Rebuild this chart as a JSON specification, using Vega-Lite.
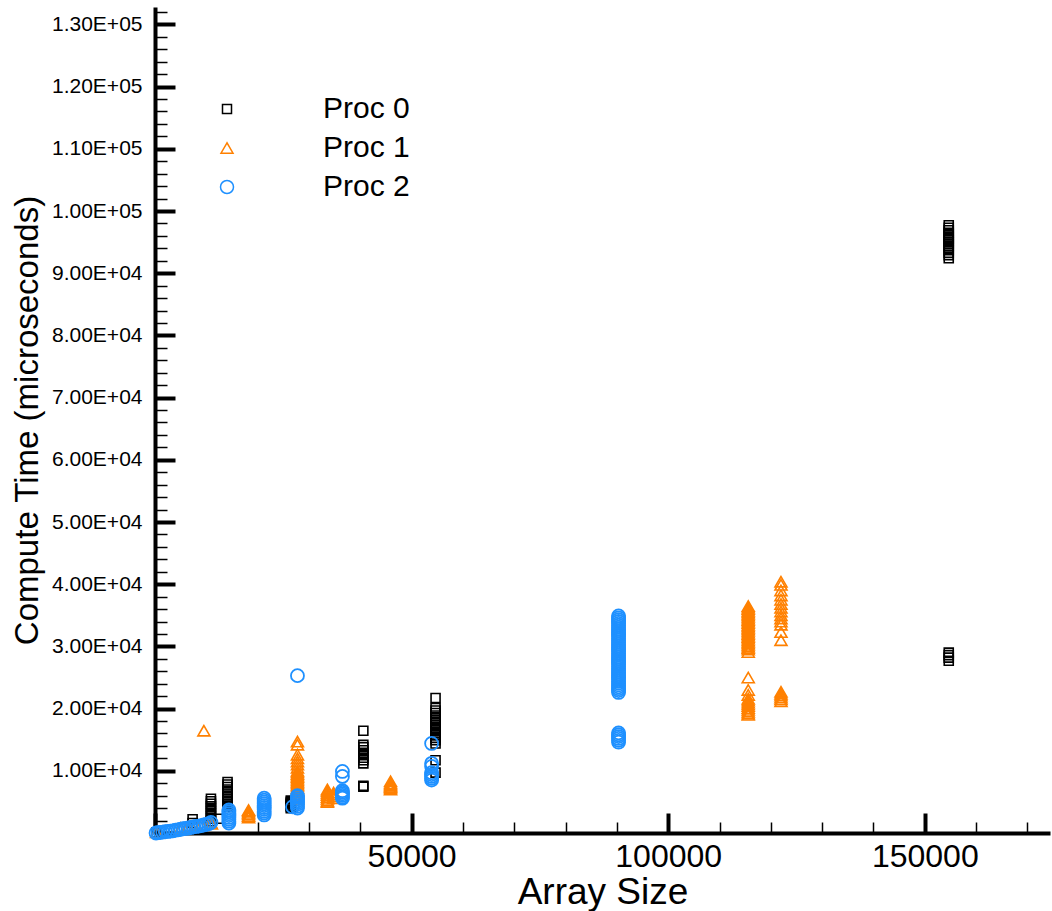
{
"$schema": "https://vega.github.io/schema/vega-lite/v6.json",
"width": 895, "height": 826,
"autosize": "none",
"padding": {"left": 155, "top": 7, "right": 2, "bottom": 78},
"background": "white",
"config": {"view": {"stroke": null}, "font": "Liberation Sans"},
"datasets": {
"p0": [
{"proc":"Proc 0","size":154670,"time":92400},{"proc":"Proc 0","size":154670,"time":92900},{"proc":"Proc 0","size":154670,"time":93300},{"proc":"Proc 0","size":154670,"time":93700},{"proc":"Proc 0","size":154670,"time":94100},{"proc":"Proc 0","size":154670,"time":94400},{"proc":"Proc 0","size":154670,"time":94700},{"proc":"Proc 0","size":154670,"time":95000},{"proc":"Proc 0","size":154670,"time":95300},{"proc":"Proc 0","size":154670,"time":95600},{"proc":"Proc 0","size":154670,"time":95900},{"proc":"Proc 0","size":154670,"time":96200},{"proc":"Proc 0","size":154670,"time":96500},{"proc":"Proc 0","size":154670,"time":96900},{"proc":"Proc 0","size":154670,"time":97300},{"proc":"Proc 0","size":154670,"time":97700},
{"proc":"Proc 0","size":154670,"time":27700},{"proc":"Proc 0","size":154670,"time":28200},{"proc":"Proc 0","size":154670,"time":28600},{"proc":"Proc 0","size":154670,"time":29000},
{"proc":"Proc 0","size":54670,"time":21700},{"proc":"Proc 0","size":54670,"time":20100},{"proc":"Proc 0","size":54670,"time":19700},{"proc":"Proc 0","size":54670,"time":19300},{"proc":"Proc 0","size":54670,"time":18900},{"proc":"Proc 0","size":54670,"time":18500},{"proc":"Proc 0","size":54670,"time":18100},{"proc":"Proc 0","size":54670,"time":17700},{"proc":"Proc 0","size":54670,"time":17300},{"proc":"Proc 0","size":54670,"time":16900},{"proc":"Proc 0","size":54670,"time":16500},{"proc":"Proc 0","size":54670,"time":16100},{"proc":"Proc 0","size":54670,"time":15700},{"proc":"Proc 0","size":54670,"time":15300},{"proc":"Proc 0","size":54670,"time":14900},{"proc":"Proc 0","size":54670,"time":14400},{"proc":"Proc 0","size":54670,"time":11700},{"proc":"Proc 0","size":54670,"time":9700},
{"proc":"Proc 0","size":40600,"time":16450},{"proc":"Proc 0","size":40600,"time":14200},{"proc":"Proc 0","size":40600,"time":13800},{"proc":"Proc 0","size":40600,"time":13300},{"proc":"Proc 0","size":40600,"time":12900},{"proc":"Proc 0","size":40600,"time":12500},{"proc":"Proc 0","size":40600,"time":12100},{"proc":"Proc 0","size":40600,"time":11700},{"proc":"Proc 0","size":40600,"time":11200},{"proc":"Proc 0","size":40600,"time":7450},{"proc":"Proc 0","size":40600,"time":7600},
{"proc":"Proc 0","size":26460,"time":4000},{"proc":"Proc 0","size":26460,"time":4200},{"proc":"Proc 0","size":26460,"time":4400},{"proc":"Proc 0","size":26460,"time":4600},{"proc":"Proc 0","size":26460,"time":4800},{"proc":"Proc 0","size":26460,"time":5000},{"proc":"Proc 0","size":26460,"time":5200},
{"proc":"Proc 0","size":14140,"time":8200},{"proc":"Proc 0","size":14140,"time":7800},{"proc":"Proc 0","size":14140,"time":7400},{"proc":"Proc 0","size":14140,"time":7000},{"proc":"Proc 0","size":14140,"time":6600},{"proc":"Proc 0","size":14140,"time":6200},{"proc":"Proc 0","size":14140,"time":5800},{"proc":"Proc 0","size":14140,"time":5400},{"proc":"Proc 0","size":14140,"time":5000},{"proc":"Proc 0","size":14140,"time":4600},{"proc":"Proc 0","size":14140,"time":4200},
{"proc":"Proc 0","size":10900,"time":5500},{"proc":"Proc 0","size":10900,"time":5100},{"proc":"Proc 0","size":10900,"time":4700},{"proc":"Proc 0","size":10900,"time":4300},{"proc":"Proc 0","size":10900,"time":3900},{"proc":"Proc 0","size":10900,"time":3500},{"proc":"Proc 0","size":10900,"time":3100},{"proc":"Proc 0","size":10900,"time":2700},{"proc":"Proc 0","size":10900,"time":2300},{"proc":"Proc 0","size":10900,"time":1900},
{"proc":"Proc 0","size":12450,"time":2300},{"proc":"Proc 0","size":7330,"time":2200},{"proc":"Proc 0","size":7330,"time":1600},{"proc":"Proc 0","size":300,"time":100}
],
"p1": [
{"proc":"Proc 1","size":9530,"time":16450},
{"proc":"Proc 1","size":18230,"time":2500},{"proc":"Proc 1","size":18230,"time":2750},{"proc":"Proc 1","size":18230,"time":3000},{"proc":"Proc 1","size":18230,"time":3250},{"proc":"Proc 1","size":18230,"time":3500},{"proc":"Proc 1","size":18230,"time":3700},
{"proc":"Proc 1","size":27760,"time":14700},{"proc":"Proc 1","size":27760,"time":14200},{"proc":"Proc 1","size":27760,"time":12600},{"proc":"Proc 1","size":27760,"time":12000},{"proc":"Proc 1","size":27760,"time":11500},{"proc":"Proc 1","size":27760,"time":11000},{"proc":"Proc 1","size":27760,"time":10500},{"proc":"Proc 1","size":27760,"time":10000},{"proc":"Proc 1","size":27760,"time":9750},{"proc":"Proc 1","size":27760,"time":9500},{"proc":"Proc 1","size":27760,"time":9250},{"proc":"Proc 1","size":27760,"time":9000},{"proc":"Proc 1","size":27760,"time":8750},{"proc":"Proc 1","size":27760,"time":8500},{"proc":"Proc 1","size":27760,"time":8250},{"proc":"Proc 1","size":27760,"time":8000},{"proc":"Proc 1","size":27760,"time":7750},{"proc":"Proc 1","size":27760,"time":7500},{"proc":"Proc 1","size":27760,"time":7250},{"proc":"Proc 1","size":27760,"time":7000},{"proc":"Proc 1","size":27760,"time":6750},{"proc":"Proc 1","size":27760,"time":6500},{"proc":"Proc 1","size":27760,"time":6250},{"proc":"Proc 1","size":27760,"time":6000},{"proc":"Proc 1","size":27760,"time":5750},{"proc":"Proc 1","size":27760,"time":5500},
{"proc":"Proc 1","size":33600,"time":7000},{"proc":"Proc 1","size":33600,"time":6700},{"proc":"Proc 1","size":33600,"time":6400},{"proc":"Proc 1","size":33600,"time":6100},{"proc":"Proc 1","size":33600,"time":5800},{"proc":"Proc 1","size":33600,"time":5500},{"proc":"Proc 1","size":33600,"time":5200},{"proc":"Proc 1","size":33600,"time":5000},
{"proc":"Proc 1","size":34800,"time":6500},{"proc":"Proc 1","size":34800,"time":6200},{"proc":"Proc 1","size":34800,"time":5900},{"proc":"Proc 1","size":34800,"time":5600},
{"proc":"Proc 1","size":45900,"time":8300},{"proc":"Proc 1","size":45900,"time":8000},{"proc":"Proc 1","size":45900,"time":7800},{"proc":"Proc 1","size":45900,"time":7600},{"proc":"Proc 1","size":45900,"time":7400},{"proc":"Proc 1","size":45900,"time":7200},{"proc":"Proc 1","size":45900,"time":7000},
{"proc":"Proc 1","size":115600,"time":36500},{"proc":"Proc 1","size":115600,"time":36250},{"proc":"Proc 1","size":115600,"time":36000},{"proc":"Proc 1","size":115600,"time":35750},{"proc":"Proc 1","size":115600,"time":35500},{"proc":"Proc 1","size":115600,"time":35250},{"proc":"Proc 1","size":115600,"time":35000},{"proc":"Proc 1","size":115600,"time":34750},{"proc":"Proc 1","size":115600,"time":34500},{"proc":"Proc 1","size":115600,"time":34250},{"proc":"Proc 1","size":115600,"time":34000},{"proc":"Proc 1","size":115600,"time":33750},{"proc":"Proc 1","size":115600,"time":33500},{"proc":"Proc 1","size":115600,"time":33250},{"proc":"Proc 1","size":115600,"time":33000},{"proc":"Proc 1","size":115600,"time":32750},{"proc":"Proc 1","size":115600,"time":32500},{"proc":"Proc 1","size":115600,"time":32250},{"proc":"Proc 1","size":115600,"time":32000},{"proc":"Proc 1","size":115600,"time":31750},{"proc":"Proc 1","size":115600,"time":31500},{"proc":"Proc 1","size":115600,"time":31250},{"proc":"Proc 1","size":115600,"time":31000},{"proc":"Proc 1","size":115600,"time":30750},{"proc":"Proc 1","size":115600,"time":30500},{"proc":"Proc 1","size":115600,"time":30250},{"proc":"Proc 1","size":115600,"time":30000},{"proc":"Proc 1","size":115600,"time":29750},{"proc":"Proc 1","size":115600,"time":29500},{"proc":"Proc 1","size":115600,"time":29100},
{"proc":"Proc 1","size":115600,"time":25000},{"proc":"Proc 1","size":115600,"time":23000},{"proc":"Proc 1","size":115600,"time":22200},{"proc":"Proc 1","size":115600,"time":21600},{"proc":"Proc 1","size":115600,"time":21300},{"proc":"Proc 1","size":115600,"time":21000},{"proc":"Proc 1","size":115600,"time":20700},{"proc":"Proc 1","size":115600,"time":20400},{"proc":"Proc 1","size":115600,"time":20100},{"proc":"Proc 1","size":115600,"time":19800},{"proc":"Proc 1","size":115600,"time":19500},{"proc":"Proc 1","size":115600,"time":19200},{"proc":"Proc 1","size":115600,"time":19000},
{"proc":"Proc 1","size":121980,"time":40400},{"proc":"Proc 1","size":121980,"time":39900},{"proc":"Proc 1","size":121980,"time":39000},{"proc":"Proc 1","size":121980,"time":38200},{"proc":"Proc 1","size":121980,"time":37500},{"proc":"Proc 1","size":121980,"time":36800},{"proc":"Proc 1","size":121980,"time":36200},{"proc":"Proc 1","size":121980,"time":35600},{"proc":"Proc 1","size":121980,"time":35000},{"proc":"Proc 1","size":121980,"time":34500},{"proc":"Proc 1","size":121980,"time":34000},{"proc":"Proc 1","size":121980,"time":33500},{"proc":"Proc 1","size":121980,"time":32300},{"proc":"Proc 1","size":121980,"time":31000},
{"proc":"Proc 1","size":121980,"time":22700},{"proc":"Proc 1","size":121980,"time":22400},{"proc":"Proc 1","size":121980,"time":22100},{"proc":"Proc 1","size":121980,"time":21800},{"proc":"Proc 1","size":121980,"time":21500},{"proc":"Proc 1","size":121980,"time":21200},
{"proc":"Proc 1","size":5000,"time":800},{"proc":"Proc 1","size":6500,"time":1000},{"proc":"Proc 1","size":8000,"time":1200},{"proc":"Proc 1","size":9000,"time":1300},{"proc":"Proc 1","size":10800,"time":1800},{"proc":"Proc 1","size":11000,"time":1500},{"proc":"Proc 1","size":300,"time":100}
],
"p2": [
{"proc":"Proc 2","size":200,"time":0},{"proc":"Proc 2","size":600,"time":50},{"proc":"Proc 2","size":1000,"time":100},{"proc":"Proc 2","size":1500,"time":150},{"proc":"Proc 2","size":2000,"time":200},{"proc":"Proc 2","size":2500,"time":250},{"proc":"Proc 2","size":3000,"time":300},{"proc":"Proc 2","size":3500,"time":350},{"proc":"Proc 2","size":4000,"time":450},{"proc":"Proc 2","size":4500,"time":500},{"proc":"Proc 2","size":5000,"time":600},{"proc":"Proc 2","size":5500,"time":700},{"proc":"Proc 2","size":6000,"time":750},{"proc":"Proc 2","size":6500,"time":800},{"proc":"Proc 2","size":7000,"time":900},{"proc":"Proc 2","size":7500,"time":1000},{"proc":"Proc 2","size":8000,"time":1050},{"proc":"Proc 2","size":8500,"time":1100},{"proc":"Proc 2","size":9000,"time":1200},{"proc":"Proc 2","size":9500,"time":1300},{"proc":"Proc 2","size":10000,"time":1400},{"proc":"Proc 2","size":10500,"time":1500},{"proc":"Proc 2","size":10900,"time":1700},
{"proc":"Proc 2","size":14400,"time":1600},{"proc":"Proc 2","size":14400,"time":1900},{"proc":"Proc 2","size":14400,"time":2200},{"proc":"Proc 2","size":14400,"time":2500},{"proc":"Proc 2","size":14400,"time":2800},{"proc":"Proc 2","size":14400,"time":3100},{"proc":"Proc 2","size":14400,"time":3400},{"proc":"Proc 2","size":14400,"time":3700},
{"proc":"Proc 2","size":21270,"time":2900},{"proc":"Proc 2","size":21270,"time":3200},{"proc":"Proc 2","size":21270,"time":3500},{"proc":"Proc 2","size":21270,"time":3800},{"proc":"Proc 2","size":21270,"time":4100},{"proc":"Proc 2","size":21270,"time":4400},{"proc":"Proc 2","size":21270,"time":4700},{"proc":"Proc 2","size":21270,"time":5000},{"proc":"Proc 2","size":21270,"time":5300},{"proc":"Proc 2","size":21270,"time":5600},
{"proc":"Proc 2","size":27760,"time":4000},{"proc":"Proc 2","size":27760,"time":4300},{"proc":"Proc 2","size":27760,"time":4600},{"proc":"Proc 2","size":27760,"time":4900},{"proc":"Proc 2","size":27760,"time":5200},{"proc":"Proc 2","size":27760,"time":5500},{"proc":"Proc 2","size":27760,"time":5800},{"proc":"Proc 2","size":27760,"time":6000},{"proc":"Proc 2","size":27760,"time":25300},{"proc":"Proc 2","size":26800,"time":4200},
{"proc":"Proc 2","size":36520,"time":9900},{"proc":"Proc 2","size":36520,"time":9100},{"proc":"Proc 2","size":36520,"time":6800},{"proc":"Proc 2","size":36520,"time":6550},{"proc":"Proc 2","size":36520,"time":6300},{"proc":"Proc 2","size":36520,"time":6050},{"proc":"Proc 2","size":36520,"time":5800},{"proc":"Proc 2","size":36520,"time":5600},
{"proc":"Proc 2","size":53900,"time":14400},{"proc":"Proc 2","size":53900,"time":11200},{"proc":"Proc 2","size":53900,"time":10700},{"proc":"Proc 2","size":53900,"time":9700},{"proc":"Proc 2","size":53900,"time":9400},{"proc":"Proc 2","size":53900,"time":9100},{"proc":"Proc 2","size":53900,"time":8800},{"proc":"Proc 2","size":53900,"time":8500},
{"proc":"Proc 2","size":90330,"time":34900},{"proc":"Proc 2","size":90330,"time":34600},{"proc":"Proc 2","size":90330,"time":34300},{"proc":"Proc 2","size":90330,"time":34000},{"proc":"Proc 2","size":90330,"time":33700},{"proc":"Proc 2","size":90330,"time":33400},{"proc":"Proc 2","size":90330,"time":33100},{"proc":"Proc 2","size":90330,"time":32800},{"proc":"Proc 2","size":90330,"time":32500},{"proc":"Proc 2","size":90330,"time":32200},{"proc":"Proc 2","size":90330,"time":31900},{"proc":"Proc 2","size":90330,"time":31600},{"proc":"Proc 2","size":90330,"time":31300},{"proc":"Proc 2","size":90330,"time":31000},{"proc":"Proc 2","size":90330,"time":30700},{"proc":"Proc 2","size":90330,"time":30400},{"proc":"Proc 2","size":90330,"time":30100},{"proc":"Proc 2","size":90330,"time":29800},{"proc":"Proc 2","size":90330,"time":29500},{"proc":"Proc 2","size":90330,"time":29200},{"proc":"Proc 2","size":90330,"time":28900},{"proc":"Proc 2","size":90330,"time":28600},{"proc":"Proc 2","size":90330,"time":28300},{"proc":"Proc 2","size":90330,"time":28000},{"proc":"Proc 2","size":90330,"time":27700},{"proc":"Proc 2","size":90330,"time":27400},{"proc":"Proc 2","size":90330,"time":27100},{"proc":"Proc 2","size":90330,"time":26800},{"proc":"Proc 2","size":90330,"time":26500},{"proc":"Proc 2","size":90330,"time":26200},{"proc":"Proc 2","size":90330,"time":25900},{"proc":"Proc 2","size":90330,"time":25600},{"proc":"Proc 2","size":90330,"time":25300},{"proc":"Proc 2","size":90330,"time":25000},{"proc":"Proc 2","size":90330,"time":24700},{"proc":"Proc 2","size":90330,"time":24400},{"proc":"Proc 2","size":90330,"time":24100},{"proc":"Proc 2","size":90330,"time":23800},{"proc":"Proc 2","size":90330,"time":23500},{"proc":"Proc 2","size":90330,"time":23200},{"proc":"Proc 2","size":90330,"time":22900},{"proc":"Proc 2","size":90330,"time":22600},
{"proc":"Proc 2","size":90330,"time":14600},{"proc":"Proc 2","size":90330,"time":14900},{"proc":"Proc 2","size":90330,"time":15200},{"proc":"Proc 2","size":90330,"time":15500},{"proc":"Proc 2","size":90330,"time":15800},{"proc":"Proc 2","size":90330,"time":16100}
]
},
"layer": [
  {"data": {"name": "p0"}, "mark": {"type": "point", "filled": false, "strokeWidth": 1.6, "opacity": 1, "clip": false}},
  {"data": {"name": "p1"}, "mark": {"type": "point", "filled": false, "strokeWidth": 1.6, "opacity": 1, "clip": false}},
  {"data": {"name": "p2"}, "mark": {"type": "point", "filled": false, "strokeWidth": 1.8, "opacity": 1, "clip": false}}
],
"encoding": {
  "x": {"field": "size", "type": "quantitative", "title": "Array Size",
    "scale": {"domain": [0, 174400], "nice": false, "zero": false},
    "axis": {"values": [0,10000,20000,30000,40000,50000,60000,70000,80000,90000,100000,110000,120000,130000,140000,150000,160000,170000],
      "labelExpr": "datum.value % 50000 === 0 && datum.value > 0 ? '' + datum.value : ''",
      "tickSize": {"condition": {"test": "datum.value % 50000 === 0", "value": -20}, "value": -11},
      "tickWidth": {"condition": {"test": "datum.value % 50000 === 0", "value": 4}, "value": 1.5},
      "tickColor": "#000", "domainColor": "#000", "domainWidth": 4, "grid": false,
      "labelFontSize": 32, "labelColor": "#000", "labelPadding": 28, "labelOverlap": false, "labelFlush": false,
      "titleFontSize": 37, "titleFontWeight": "normal", "titleColor": "#000", "titleBaseline": "alphabetic", "titleY": 70}},
  "y": {"field": "time", "type": "quantitative", "title": "Compute Time (microseconds)",
    "scale": {"domain": [0, 132800], "nice": false, "zero": false},
    "axis": {"values": [0,2000,4000,6000,8000,10000,12000,14000,16000,18000,20000,22000,24000,26000,28000,30000,32000,34000,36000,38000,40000,42000,44000,46000,48000,50000,52000,54000,56000,58000,60000,62000,64000,66000,68000,70000,72000,74000,76000,78000,80000,82000,84000,86000,88000,90000,92000,94000,96000,98000,100000,102000,104000,106000,108000,110000,112000,114000,116000,118000,120000,122000,124000,126000,128000,130000,132000],
      "labelExpr": "datum.value % 10000 === 0 && datum.value > 0 ? (datum.value >= 100000 ? format(datum.value / 100000, '.2f') + 'E+05' : format(datum.value / 10000, '.2f') + 'E+04') : ''",
      "tickSize": {"condition": {"test": "datum.value % 10000 === 0", "value": -20}, "value": -12},
      "tickWidth": {"condition": {"test": "datum.value % 10000 === 0", "value": 4}, "value": 1.5},
      "tickColor": "#000", "domainColor": "#000", "domainWidth": 4, "grid": false,
      "labelFontSize": 21, "labelColor": "#000", "labelPadding": 33, "labelOverlap": false, "labelFlush": false,
      "titleFontSize": 33, "titleFontWeight": "normal", "titleColor": "#000", "titlePadding": 7}},
  "color": {"field": "proc", "type": "nominal",
    "scale": {"domain": ["Proc 0", "Proc 1", "Proc 2"], "range": ["#000000", "#FF8000", "#1E90FF"]},
    "legend": {"title": null, "orient": "none", "legendX": 57, "legendY": 87, "padding": 0,
      "labelFontSize": 30, "labelColor": "#000", "labelOffset": 81, "rowPadding": 9, "symbolStrokeWidth": 1.5}},
  "shape": {"field": "proc", "type": "nominal",
    "scale": {"domain": ["Proc 0", "Proc 1", "Proc 2"], "range": ["square", "triangle-up", "circle"]}},
  "size": {"field": "proc", "type": "nominal",
    "scale": {"type": "ordinal", "domain": ["Proc 0", "Proc 1", "Proc 2"], "range": [81, 144, 169]}}
}
}
